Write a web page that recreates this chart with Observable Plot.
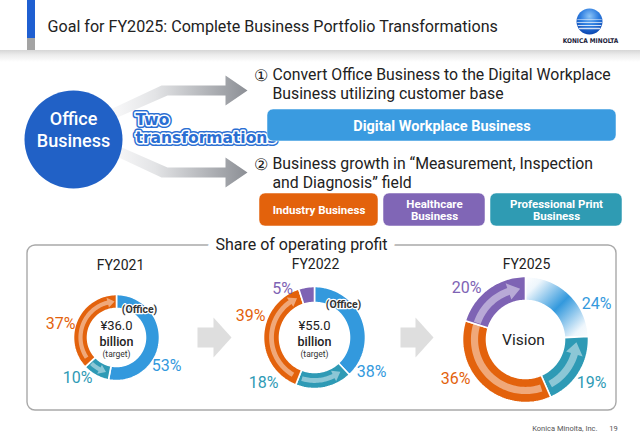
<!DOCTYPE html>
<html><head><meta charset="utf-8">
<script src="https://cdn.jsdelivr.net/npm/d3@7"></script>
<script src="https://cdn.jsdelivr.net/npm/@observablehq/plot@0.6"></script>
<style>
html,body{margin:0;padding:0;background:#fff;}
svg{display:block}
</style></head><body><div id="chart"></div>
<script>
// ---------------- data ----------------
const title = "Goal for FY2025: Complete Business Portfolio Transformations";
const sourceNote = "Konica Minolta, Inc.";
const pageNumber = "19";
const logoText = "KONICA MINOLTA";
const hubLabel = ["Office", "Business"];
const transformLabel = ["Two", "transformations"];
const stepMarkers = ["①", "②"];
const step1 = ["Convert Office Business to the Digital Workplace", "Business utilizing customer base"];
const step2 = ["Business growth in “Measurement, Inspection", "and Diagnosis” field"];
const step1Boxes = ["Digital Workplace Business"];
const step2Boxes = ["Industry Business", "Healthcare\nBusiness", "Professional Print\nBusiness"];
const panelTitle = "Share of operating profit";
const years = ["FY2021", "FY2022", "FY2025"];
const segments = ["Office", "Professional Print", "Industry", "Healthcare"];
const share2021 = [53, 10, 37, 0];
const share2022 = [38, 18, 39, 5];
const share2025 = [24, 19, 36, 20];
const centerText = [["¥36.0", "billion", "(target)"], ["¥55.0", "billion", "(target)"], ["Vision"]];
const officeTag = "(Office)";

// ---------------- styles / layout ----------------
const W = 640, H = 443;
const F = "Roboto, 'Open Sans', sans-serif";
const segColor = {"Office": "#3399dd", "Professional Print": "#2e9ab5", "Industry": "#e3620c", "Healthcare": "#7e63b4"};
const boxColor = ["#3a9be0", "#e3620c", "#8066b6", "#2f9bb3"];
const shares = [share2021, share2022, share2025];
const donutLayout = [
  {cx: 116, cy: 337, r0: 29, r1: 43, yearX: 120, yearY: 269, centerY: [329, 345, 356], tag: [139, 312],
   pct: {"Office": [166, 370], "Professional Print": [77, 382], "Industry": [60, 328]},
   arrows: [{seg: "Industry", from: 236, to: 357, head: true}, {seg: "Professional Print", from: 224, to: 197, head: true}]},
  {cx: 314, cy: 337, r0: 35, r1: 51, yearX: 315, yearY: 268, centerY: [329, 345, 356], tag: [343, 307],
   pct: {"Office": [371, 376], "Professional Print": [263, 387], "Industry": [250, 320], "Healthcare": [282, 293]},
   arrows: [{seg: "Industry", from: 210, to: 336, head: true}, {seg: "Professional Print", from: 197, to: 143, head: true}]},
  {cx: 525, cy: 339, r0: 39, r1: 63, yearX: 526, yearY: 268, centerY: [344], tag: null, gradientOffice: true,
   pct: {"Office": [596, 308], "Professional Print": [591, 387], "Industry": [455, 383], "Healthcare": [466, 292]},
   arrows: [{seg: "Professional Print", from: 151, to: 93, head: true}, {seg: "Industry", from: 162, to: 288, head: false}, {seg: "Healthcare", from: 289, to: 354, head: true}]}
];

// ---------------- geometry helpers ----------------
const rad = d => d * Math.PI / 180;
const polar = (cx, cy, r, deg) => [cx + r * Math.sin(rad(deg)), cy - r * Math.cos(rad(deg))];
function ring(cx, cy, r0, r1, a0, a1) {
  const n = Math.max(2, Math.ceil(Math.abs(a1 - a0) / 2));
  const pts = [];
  for (let i = 0; i <= n; i++) pts.push(polar(cx, cy, r1, a0 + (a1 - a0) * i / n));
  for (let i = n; i >= 0; i--) pts.push(polar(cx, cy, r0, a0 + (a1 - a0) * i / n));
  return pts;
}
function curvedArrow(cx, cy, r0, r1, a0, a1, head) {
  const w = r1 - r0, rm = (r0 + r1) / 2, bw = 0.3 * w, hh = 0.36 * w, hl = 0.5 * w;
  const dir = Math.sign(a1 - a0);
  const ab = head ? a1 - dir * (hl / rm) * 180 / Math.PI : a1;
  const n = Math.max(2, Math.ceil(Math.abs(ab - a0) / 2));
  const pts = [];
  for (let i = 0; i <= n; i++) pts.push(polar(cx, cy, rm + bw / 2, a0 + (ab - a0) * i / n));
  if (head) {
    pts.push(polar(cx, cy, rm + hh, ab));
    pts.push(polar(cx, cy, rm, a1));
    pts.push(polar(cx, cy, rm - hh, ab));
  }
  for (let i = n; i >= 0; i--) pts.push(polar(cx, cy, rm - bw / 2, a0 + (ab - a0) * i / n));
  return pts;
}
const poly = (pts, o) => Plot.line(pts, {x: d => d[0], y: d => d[1], curve: "linear-closed", stroke: "none", ...o});
const T = (rows, o) => Plot.text(rows, {x: "x", y: "y", text: "t", fontFamily: F, lineAnchor: "bottom", ...o});
const R = (rows, o) => Plot.rect(rows, {x1: "x1", x2: "x2", y1: "y1", y2: "y2", ...o});

// ---------------- marks ----------------
const marks = [];
// header
marks.push(R([{x1: 0, x2: W, y1: 50, y2: 62}], {fill: "url(#shadowGrad)"}));
marks.push(R([{x1: 27, x2: 35, y1: 0, y2: 38}], {fill: "#1f5fd1"}));
marks.push(R([{x1: 27, x2: 35, y1: 38, y2: 50}], {fill: "#a3a3a3"}));
marks.push(T([{x: 47, y: 31, t: title}], {textAnchor: "start", fontSize: 16.1, fill: "#222"}));
// logo
marks.push(Plot.dot([{x: 589, y: 21}], {x: "x", y: "y", r: 13, fill: "url(#logoGrad)", stroke: "none"}));
[19, 22, 25, 28].forEach((yy, i) => {
  const h = Math.sqrt(Math.max(0, 13 * 13 - (yy - 21) * (yy - 21))) - 1;
  marks.push(Plot.line([[589 - h, yy], [589 + h, yy]], {x: d => d[0], y: d => d[1], stroke: "white", strokeWidth: 0.6 + i * 0.25, strokeOpacity: 0.8}));
});
marks.push(T([{x: 590, y: 42, t: logoText}], {fontSize: 6.5, fontWeight: 700, fill: "#1c1c3a", fontFamily: "'DejaVu Sans Condensed', 'DejaVu Sans', sans-serif"}));

// big arrows from hub
const upperArrow = [[98, 114.5], [161, 85], [225, 85], [225, 75], [247, 90], [225, 105], [225, 95], [167, 95], [102, 123.5]];
const lowerArrow = upperArrow.map(([x, y]) => [x, 262 - y]);
marks.push(poly(upperArrow, {fill: "url(#arrowGrad)"}));
marks.push(poly(lowerArrow, {fill: "url(#arrowGrad)"}));
// hub circle
marks.push(Plot.dot([{x: 73, y: 139}], {x: "x", y: "y", r: 49, fill: "#2161c6", stroke: "none"}));
marks.push(T([{x: 73, y: 146, t: hubLabel.join("\n")}], {fontSize: 18, fontWeight: 500, fill: "white", lineHeight: 1.17}));
// "Two transformations"
const ttRows = [{x: 135, y: 142, t: transformLabel.join("\n")}];
const ttFont = "'DejaVu Sans', sans-serif";
marks.push(T(ttRows, {textAnchor: "start", fontFamily: ttFont, fontWeight: 700, fontSize: 15.5, lineHeight: 1.1, fill: "#2b6fd3", stroke: "#2b6fd3", strokeWidth: 6, strokeLinejoin: "round"}));
marks.push(T(ttRows, {textAnchor: "start", fontFamily: ttFont, fontWeight: 700, fontSize: 15.5, lineHeight: 1.1, fill: "#2b6fd3", stroke: "white", strokeWidth: 3, strokeLinejoin: "round", paintOrder: "stroke"}));

// step texts (marker + hanging-indent block)
marks.push(T([{x: 253, y: 80, t: stepMarkers[0]}, {x: 253, y: 169, t: stepMarkers[1]}], {textAnchor: "start", fontSize: 15.8, fill: "#222"}));
marks.push(T([{x: 272, y: 98.5, t: step1.join("\n")}, {x: 272, y: 187.5, t: step2.join("\n")}],
  {textAnchor: "start", fontSize: 15.8, lineHeight: 1.18, fill: "#222"}));
// boxes
const boxRows = [
  {x1: 267, x2: 616, y1: 109, y2: 141, t: step1Boxes[0], c: boxColor[0], fs: 14.5},
  {x1: 259, x2: 378, y1: 193, y2: 226, t: step2Boxes[0], c: boxColor[1], fs: 11.5},
  {x1: 383, x2: 485, y1: 193, y2: 226, t: step2Boxes[1], c: boxColor[2], fs: 11.5},
  {x1: 490, x2: 622, y1: 193, y2: 226, t: step2Boxes[2], c: boxColor[3], fs: 11.5}
];
boxRows.forEach(b => {
  marks.push(R([b], {fill: b.c, rx: 6, stroke: "white", strokeOpacity: 0.5, strokeWidth: 1}));
  marks.push(Plot.text([b], {x: d => (d.x1 + d.x2) / 2, y: d => (d.y1 + d.y2) / 2, text: "t", fontFamily: F, fontSize: b.fs, fontWeight: 700, fill: "white", lineAnchor: "middle", lineHeight: 1.1}));
});

// bottom panel
marks.push(R([{x1: 27, x2: 616, y1: 245, y2: 410}], {fill: "none", stroke: "#a9a9a9", strokeWidth: 1.4, rx: 8}));
marks.push(T([{x: 301, y: 249, t: panelTitle}], {fontSize: 16, fill: "#222", stroke: "white", strokeWidth: 16, paintOrder: "stroke"}));
// gray chevrons between donuts
const chevron = (x0, xh, tip, cy) => [[x0, cy - 10], [xh, cy - 10], [xh, cy - 20], [tip, cy], [xh, cy + 20], [xh, cy + 10], [x0, cy + 10]];
marks.push(poly(chevron(197, 213, 231, 337), {fill: "#dedede"}));
marks.push(poly(chevron(400, 415, 433, 337), {fill: "#dedede"}));

// donuts
donutLayout.forEach((L, k) => {
  const vals = shares[k];
  const arcs = d3.pie().sort(null).value(d => d)(vals);
  arcs.forEach((a, i) => {
    if (vals[i] <= 0) return;
    const seg = segments[i];
    const fill = (seg === "Office" && L.gradientOffice) ? "url(#visionGrad)" : segColor[seg];
    marks.push(poly(ring(L.cx, L.cy, L.r0, L.r1, a.startAngle * 180 / Math.PI, a.endAngle * 180 / Math.PI),
      {fill, stroke: "white", strokeWidth: 1.6}));
  });
  L.arrows.forEach(ar => {
    marks.push(poly(curvedArrow(L.cx, L.cy, L.r0, L.r1, ar.from, ar.to, ar.head), {fill: "white", fillOpacity: 0.45}));
  });
  // percent labels
  const pctRows = segments.map((s, i) => ({s, v: vals[i]})).filter(d => d.v > 0)
    .map(d => ({x: L.pct[d.s][0], y: L.pct[d.s][1], t: d.v + "%", c: segColor[d.s]}));
  marks.push(T(pctRows, {fill: "c", fontSize: 16}));
  // year
  marks.push(T([{x: L.yearX, y: L.yearY, t: years[k]}], {fontSize: 14, fill: "#222"}));
  // center text
  const ct = centerText[k];
  if (ct.length === 3) {
    marks.push(T([{x: L.cx, y: L.centerY[0], t: ct[0]}], {fontSize: 13, fill: "#222"}));
    marks.push(T([{x: L.cx, y: L.centerY[1], t: ct[1]}], {fontSize: 12.5, fontWeight: 500, fill: "#222"}));
    marks.push(T([{x: L.cx, y: L.centerY[2], t: ct[2]}], {fontSize: 8.5, fill: "#333"}));
  } else {
    marks.push(T([{x: L.cx - 2, y: L.centerY[0], t: ct[0]}], {fontSize: 15.5, fill: "#222"}));
  }
  if (L.tag) marks.push(T([{x: L.tag[0], y: L.tag[1], t: officeTag}], {fontSize: 10.5, fontWeight: 700, fill: "#333", stroke: "white", strokeWidth: 2.5, paintOrder: "stroke"}));
});

// footer
marks.push(T([{x: 597, y: 430, t: sourceNote}], {textAnchor: "end", fontSize: 7.5, fill: "#555"}));
marks.push(T([{x: 613, y: 430, t: pageNumber}], {fontSize: 7.5, fill: "#555"}));

const svg = Plot.plot({
  width: W, height: H, margin: 0,
  x: {domain: [0, W], range: [0, W], axis: null},
  y: {domain: [0, H], range: [0, H], axis: null},
  style: {background: "white", fontFamily: F, overflow: "visible"},
  marks
});

// gradients
const defs = d3.select(svg).insert("defs", ":first-child");
const lin = (id, attrs, stops) => {
  const g = defs.append("linearGradient").attr("id", id);
  Object.entries(attrs).forEach(([k, v]) => g.attr(k, v));
  stops.forEach(([o, c]) => g.append("stop").attr("offset", o).attr("stop-color", c));
};
lin("shadowGrad", {x1: 0, y1: 0, x2: 0, y2: 1}, [[0, "#d6d6d6"], [0.4, "#ececec"], [1, "#ffffff"]]);
lin("arrowGrad", {gradientUnits: "userSpaceOnUse", x1: 115, y1: 0, x2: 247, y2: 0}, [[0, "#f7f7f8"], [0.3, "#e3e4e6"], [1, "#8c8f95"]]);
const v = donutLayout[2];
lin("visionGrad", {gradientUnits: "userSpaceOnUse", x1: v.cx, y1: v.cy - v.r1, x2: v.cx + v.r1, y2: v.cy},
  [[0, "#ffffff"], [0.15, "#eef6fc"], [0.5, "#3399dd"], [0.85, "#eef6fc"], [1, "#ffffff"]]);
const rg = defs.append("radialGradient").attr("id", "logoGrad").attr("cx", 0.5).attr("cy", 0.3).attr("r", 0.7);
[[0, "#8cc4f7"], [0.5, "#2f7ee0"], [1, "#0b45b0"]].forEach(([o, c]) => rg.append("stop").attr("offset", o).attr("stop-color", c));

document.getElementById("chart").append(svg);
</script>
</body></html>
